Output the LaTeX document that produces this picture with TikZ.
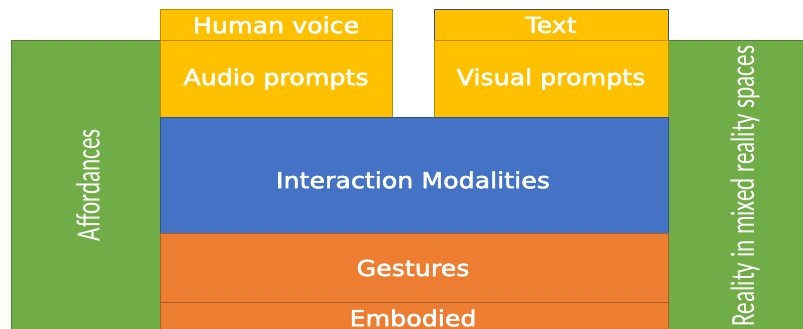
\documentclass[tikz,border=0pt]{standalone}
\usepackage{fontspec}
\setmainfont{DejaVu Sans}
\newfontfamily\narrowfont{Carlito}
\definecolor{cgreen}{HTML}{70AD47}
\definecolor{cgreenb}{HTML}{507E32}
\definecolor{cblue}{HTML}{4472C4}
\definecolor{cblueb}{HTML}{2F528F}
\definecolor{corange}{HTML}{ED7D31}
\definecolor{coranb}{HTML}{AE5A21}
\definecolor{cyellow}{HTML}{FFC000}
\definecolor{cyellowb}{HTML}{BC8C00}
\newcommand{\heavytext}[1]{\special{pdf:literal direct 1 1 1 RG 2 Tr 0.5 w}#1\special{pdf:literal direct 0 Tr}}
\tikzset{
  blk/.style={draw, line width=0.8pt, inner sep=0pt, text=white},
  lbl/.style={text=white, font=\fontsize{22}{25}\selectfont, inner sep=0pt},
  vlbl/.style={text=white, rotate=90, inner sep=0pt}
}
\begin{document}
\begin{tikzpicture}[x=1pt,y=-1pt]
\useasboundingbox (0,0) rectangle (803,329);
\fill[white] (0,0) rectangle (803,329);
% side green bars
\draw[blk, fill=cgreen, draw=cgreenb] (11,40) rectangle (160,340);
\draw[blk, fill=cgreen, draw=cgreenb] (668,40) rectangle (810,340);
% yellow prompt boxes
\draw[blk, fill=cyellow, draw=cyellowb] (160,9) rectangle (392,40);
\draw[blk, fill=cyellow, draw=cyellowb] (160,40) rectangle (392,117);
\draw[blk, fill=cyellow, draw=cblueb] (434,9) rectangle (668,40);
\draw[blk, fill=cyellow, draw=cyellowb] (434,40) rectangle (668,117);
% blue
\draw[blk, fill=cblue, draw=cblueb] (160,117) rectangle (668,233);
% orange
\draw[blk, fill=corange, draw=coranb] (160,233) rectangle (668,302);
\draw[blk, fill=corange, draw=coranb] (160,302) rectangle (668,345);
% labels
\node[lbl] (hv) at (276,25) {\scalebox{1.15}[1]{\heavytext{Human voice}}};
\node[lbl] (ap) at (276,79) {\scalebox{1.15}[1]{\heavytext{Audio prompts}}};
\node[lbl] (tx) at (551,25) {\scalebox{1.15}[1]{\heavytext{Text}}};
\node[lbl] (vp) at (551,79) {\scalebox{1.15}[1]{\heavytext{Visual prompts}}};
\node[lbl] (im) at (413,180) {\scalebox{1.15}[1]{\heavytext{Interaction Modalities}}};
\node[lbl] (ge) at (413,268) {\scalebox{1.15}[1]{\heavytext{Gestures}}};
\node[lbl] (em) at (413,318) {\scalebox{1.15}[1]{\heavytext{Embodied}}};
\node[vlbl] (af) at (88,185) {\narrowfont\fontsize{34}{36}\selectfont\scalebox{0.68}[1]{Affordances}};
\node[vlbl] (re) at (745,186) {\narrowfont\fontsize{34}{36}\selectfont\scalebox{0.68}[1]{Reality in mixed reality spaces}};
\end{tikzpicture}
\end{document}
